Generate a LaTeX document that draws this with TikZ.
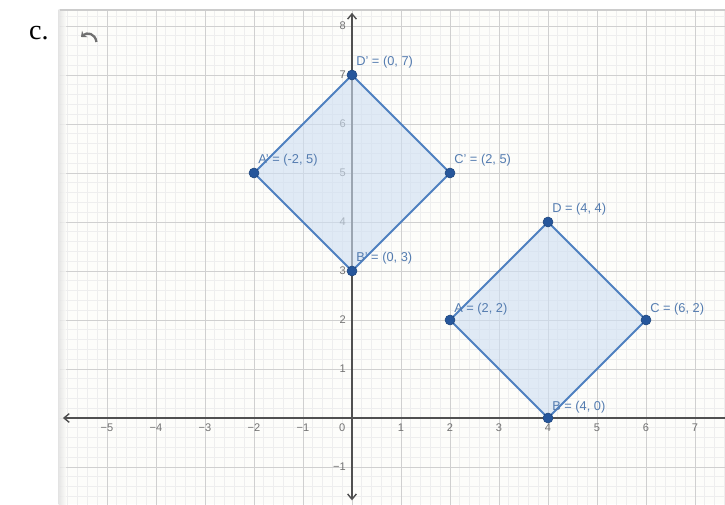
\documentclass[tikz,border=0pt]{standalone}
\usepackage{fontspec}
\setmainfont{Liberation Serif}
\setsansfont{Liberation Sans}
\usetikzlibrary{arrows.meta}
\definecolor{bg}{RGB}{253,253,250}
\definecolor{edgeblue}{RGB}{78,128,192}
\definecolor{fillblue}{RGB}{205,222,242}
\definecolor{dotblue}{RGB}{38,86,155}
\definecolor{lblblue}{RGB}{84,124,176}
\definecolor{minorgrid}{RGB}{238,238,238}
\definecolor{majorgrid}{RGB}{208,208,208}
\definecolor{axisgray}{RGB}{80,80,80}
\tikzset{
  pt/.style={circle,fill=dotblue,draw=dotblue!80!black,line width=0.3pt,inner sep=0pt,minimum size=0.2cm},
  ptlabel/.style={anchor=west,text=lblblue,font=\sffamily\fontsize{7.3}{8}\selectfont,inner sep=0pt},
  ticklbl/.style={text=black!55,font=\sffamily\fontsize{6.3}{7}\selectfont,inner sep=0pt},
  square/.style={draw=edgeblue,line width=1.1pt,fill=fillblue,fill opacity=0.6,line join=round},
  axisline/.style={axisgray,line width=0.8pt},
}
\begin{document}
\begin{tikzpicture}
\useasboundingbox[fill=white] (0,0) rectangle (14.5,10.08);
\node[font=\fontsize{16}{18}\selectfont] (lblc) at (0.78,9.42) {c.};
\fill[bg] (1.2,0) rectangle (14.5,9.88);
\begin{scope}[shift={(7.04,1.72)},x=0.98cm,y=0.98cm]
  \begin{scope}
    \clip (-5.96,-1.76) rectangle (7.61,8.33);
    \draw[minorgrid,line width=0.4pt] (-6,-2) grid[step=0.2] (8,9);
    \draw[majorgrid,line width=0.5pt] (-6,-2) grid[step=1] (8,9);
  \end{scope}
\end{scope}
% left shadow and top edge of the graph panel
\shade[left color=gray!25,right color=bg,opacity=0.8] (1.17,0) rectangle (1.32,9.88);
\draw[gray!40,line width=0.6pt] (1.2,9.88) -- (14.5,9.88);
\begin{scope}[shift={(7.04,1.72)},x=0.98cm,y=0.98cm]
  % axes
  \coordinate (xl) at (-5.9,0);
  \coordinate (xr) at (7.61,0);
  \coordinate (yb) at (0,-1.68);
  \coordinate (yt) at (0,8.27);
  \draw[axisline,{Straight Barb[length=3pt,width=5pt]}-] (xl) -- (xr);
  \draw[axisline,{Straight Barb[length=3pt,width=5pt]}-{Straight Barb[length=3pt,width=5pt]}] (yb) -- (yt);
  % tick labels
  \node[ticklbl] (tx-5) at (-5,-0.2) {−5};
  \node[ticklbl] (tx-4) at (-4,-0.2) {−4};
  \node[ticklbl] (tx-3) at (-3,-0.2) {−3};
  \node[ticklbl] (tx-2) at (-2,-0.2) {−2};
  \node[ticklbl] (tx-1) at (-1,-0.2) {−1};
  \node[ticklbl] (tx0) at (-0.2,-0.2) {0};
  \foreach \x in {1,...,7} {\node[ticklbl] (tx\x) at (\x,-0.2) {\x};}
  \foreach \y in {1,...,8} {\node[ticklbl,anchor=east] (ty\y) at (-0.12,\y) {\y};}
  \node[ticklbl,anchor=east] (ty-1) at (-0.12,-1) {−1};
  % vertices
  \coordinate (A) at (2,2);
  \coordinate (B) at (4,0);
  \coordinate (C) at (6,2);
  \coordinate (D) at (4,4);
  \coordinate (A1) at (-2,5);
  \coordinate (B1) at (0,3);
  \coordinate (C1) at (2,5);
  \coordinate (D1) at (0,7);
  \draw[square] (A) -- (B) -- (C) -- (D) -- cycle;
  \draw[square] (A1) -- (B1) -- (C1) -- (D1) -- cycle;
  \foreach \p in {A,B,C,D,A1,B1,C1,D1} {\node[pt] (p\p) at (\p) {};}
  \path (A) ++(0.08,0.23) node[ptlabel] (lA) {A = (2, 2)};
  \path (B) ++(0.08,0.23) node[ptlabel] (lB) {B = (4, 0)};
  \path (C) ++(0.08,0.23) node[ptlabel] (lC) {C = (6, 2)};
  \path (D) ++(0.08,0.26) node[ptlabel] (lD) {D = (4, 4)};
  \path (A1) ++(0.08,0.27) node[ptlabel] (lA1) {A' = (-2, 5)};
  \path (B1) ++(0.08,0.27) node[ptlabel] (lB1) {B' = (0, 3)};
  \path (C1) ++(0.08,0.27) node[ptlabel] (lC1) {C' = (2, 5)};
  \path (D1) ++(0.08,0.27) node[ptlabel] (lD1) {D' = (0, 7)};
\end{scope}
% undo icon
\draw[gray!60!black!80,line width=1.3pt,-{Stealth[length=2.8pt,width=4.8pt]}] (1.93,9.24) .. controls (1.9,9.42) and (1.74,9.44) .. (1.62,9.34);
\end{tikzpicture}
\end{document}
